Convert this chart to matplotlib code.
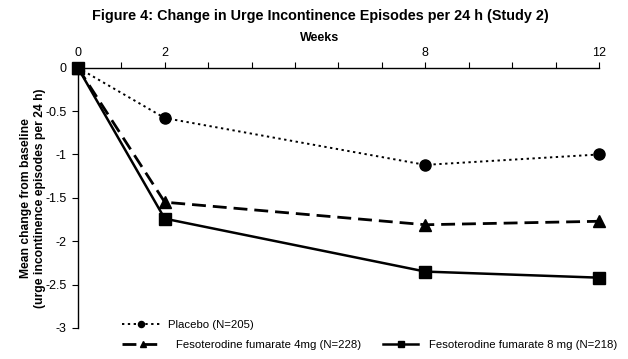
import matplotlib
matplotlib.use("Agg")
import matplotlib.pyplot as plt

plt.rcParams['font.family'] = ['Liberation Sans', 'DejaVu Sans']

weeks = [0, 2, 8, 12]
placebo = [0, -0.58, -1.12, -1.00]
feso4 = [0, -1.55, -1.81, -1.77]
feso8 = [0, -1.74, -2.35, -2.42]
xtick_labels = ['0', '2', '8', '12']
yticks = [0, -0.5, -1, -1.5, -2, -2.5, -3]
ytick_labels = ['0', '-0.5', '-1', '-1.5', '-2', '-2.5', '-3']

fig = plt.figure(figsize=(6.28, 3.59), dpi=100)
ax = fig.add_axes([0.124, 0.0864, 0.830, 0.725])

l1, = ax.plot(weeks, placebo, color='black', linestyle=(0, (1.2, 1.8)), linewidth=1.4,
              marker='o', markersize=8, label='Placebo (N=205)', zorder=3)
l2, = ax.plot(weeks, feso4, color='black', linestyle=(0, (5, 2.5)), linewidth=2.0,
              marker='^', markersize=9, label='Fesoterodine fumarate 4mg (N=228)', zorder=3)
l3, = ax.plot(weeks, feso8, color='black', linestyle='-', linewidth=1.8,
              marker='s', markersize=8, label='Fesoterodine fumarate 8 mg (N=218)', zorder=4)

ax.set_xlim(0, 12)
ax.set_ylim(-3, 0)
ax.xaxis.tick_top()
ax.xaxis.set_label_position('top')
ax.set_xticks(range(0, 13), minor=True)
ax.set_xticks(weeks)
ax.set_xticklabels(xtick_labels, fontsize=9)
ax.set_yticks(yticks)
ax.set_yticklabels(ytick_labels, fontsize=9)
ax.tick_params(axis='x', which='both', direction='out', length=4, width=0.8, pad=2)
ax.tick_params(axis='y', direction='out', length=4, width=0.8, pad=4)
for s in ['right', 'bottom']:
    ax.spines[s].set_visible(False)
ax.spines['top'].set_linewidth(1.0)
ax.spines['left'].set_linewidth(1.0)
for l in [l1, l2, l3]:
    l.set_clip_on(False)

ax.set_xlabel('Weeks', fontsize=9, fontweight='bold')
ax.xaxis.set_label_coords((320 - 78) / 521, 1.0 + 30 / 260, transform=ax.transAxes)
ax.xaxis.label.set_va('center')
ax.set_ylabel('Mean change from baseline\n(urge incontinence episodes per 24 h)',
              fontsize=8.7, fontweight='bold', labelpad=0)
fig.suptitle('Figure 4: Change in Urge Incontinence Episodes per 24 h (Study 2)',
             fontsize=10.4, fontweight='bold', x=0.51, y=0.975)

common = dict(frameon=False, fontsize=8.2, borderpad=0, borderaxespad=0,
              markerscale=0.55, loc='center left')
fig.legend(handles=[l1], bbox_to_anchor=(122 / 628, 1 - 325 / 359),
           handlelength=3.4, handletextpad=0.6, **common)
fig.legend(handles=[l2], bbox_to_anchor=(122 / 628, 1 - 345 / 359),
           handlelength=3.6, handletextpad=1.1, **common)
fig.legend(handles=[l3], bbox_to_anchor=(383 / 628, 1 - 345 / 359),
           handlelength=3.1, handletextpad=0.9, **common)

fig.savefig('out.png', dpi=100)
